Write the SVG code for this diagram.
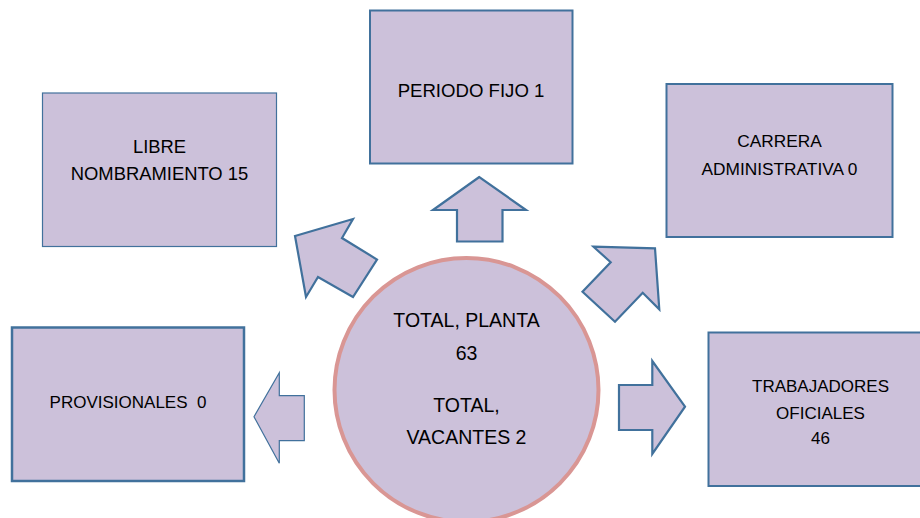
<svg xmlns="http://www.w3.org/2000/svg" width="920" height="518" viewBox="0 0 920 518">
<style>
.box{fill:#CCC1DA;stroke:#41719C;stroke-width:2}
.hub{fill:#CCC1DA;stroke:#D99694;stroke-width:4}
.arr{fill:#CCC1DA;stroke:#41719C;stroke-width:2.2;stroke-linejoin:miter}
text{font-family:"Liberation Sans",Arial,sans-serif;font-size:18px;fill:#000;text-anchor:middle;white-space:pre}
</style>
<rect width="920" height="518" fill="#fff"/>
<g id="connectors">
<polygon class="arr" points="479.3,177 433,210 457,210 457,241.5 502.5,241.5 502.5,210 526,210"/>
<polygon class="arr" points="295,236 353,219 342,238 377,259.5 353,297 318,277 306,297"/>
<polygon class="arr" points="593.5,246.7 655,248.3 659.3,309.3 642.7,292.7 615,321.7 582.5,291.7 610.7,262.3"/>
<polygon class="arr" style="stroke-width:1.2" points="254,416.7 279.3,372.7 279.3,395.7 304.3,395.7 304.3,440.7 279.3,440.7 279.3,463.3"/>
<polygon class="arr" points="685,406.7 652.3,361 652.3,385 619,385 619,430 652.3,430 652.3,454"/>
</g>
<g id="hub" style="font-size:19.5px">
<circle class="hub" cx="466.5" cy="390" r="132"/>
<text x="466.5" y="327" style="font-size:19.5px">TOTAL, PLANTA</text>
<text x="466.5" y="360" style="font-size:19.5px">63</text>
<text x="466.5" y="412" style="font-size:19.5px">TOTAL,</text>
<text x="466.5" y="444" style="font-size:19.5px">VACANTES 2</text>
</g>
<g id="libre">
<rect class="box" style="stroke-width:1.2" x="42.5" y="93" width="234" height="153.5"/>
<text x="159.5" y="153" style="font-size:18.4px">LIBRE</text>
<text x="159.5" y="180" style="font-size:18.4px">NOMBRAMIENTO 15</text>
</g>
<g id="periodo">
<rect class="box" x="370" y="10.5" width="202.5" height="153"/>
<text x="471" y="97" style="font-size:18.6px">PERIODO FIJO 1</text>
</g>
<g id="carrera">
<rect class="box" x="666.5" y="84" width="226" height="153"/>
<text x="779.5" y="147" style="font-size:17.3px">CARRERA</text>
<text x="779.5" y="175" style="font-size:17.3px">ADMINISTRATIVA 0</text>
</g>
<g id="provisionales">
<rect class="box" style="stroke-width:2.5" x="12" y="327.5" width="232" height="153.5"/>
<text x="128" y="408" style="font-size:17px">PROVISIONALES  0</text>
</g>
<g id="trabajadores">
<rect class="box" x="708.5" y="332.5" width="225" height="153.5"/>
<text x="820.5" y="392" style="font-size:17px">TRABAJADORES</text>
<text x="820.5" y="419" style="font-size:17px">OFICIALES</text>
<text x="820.5" y="444" style="font-size:17px">46</text>
</g>
</svg>
